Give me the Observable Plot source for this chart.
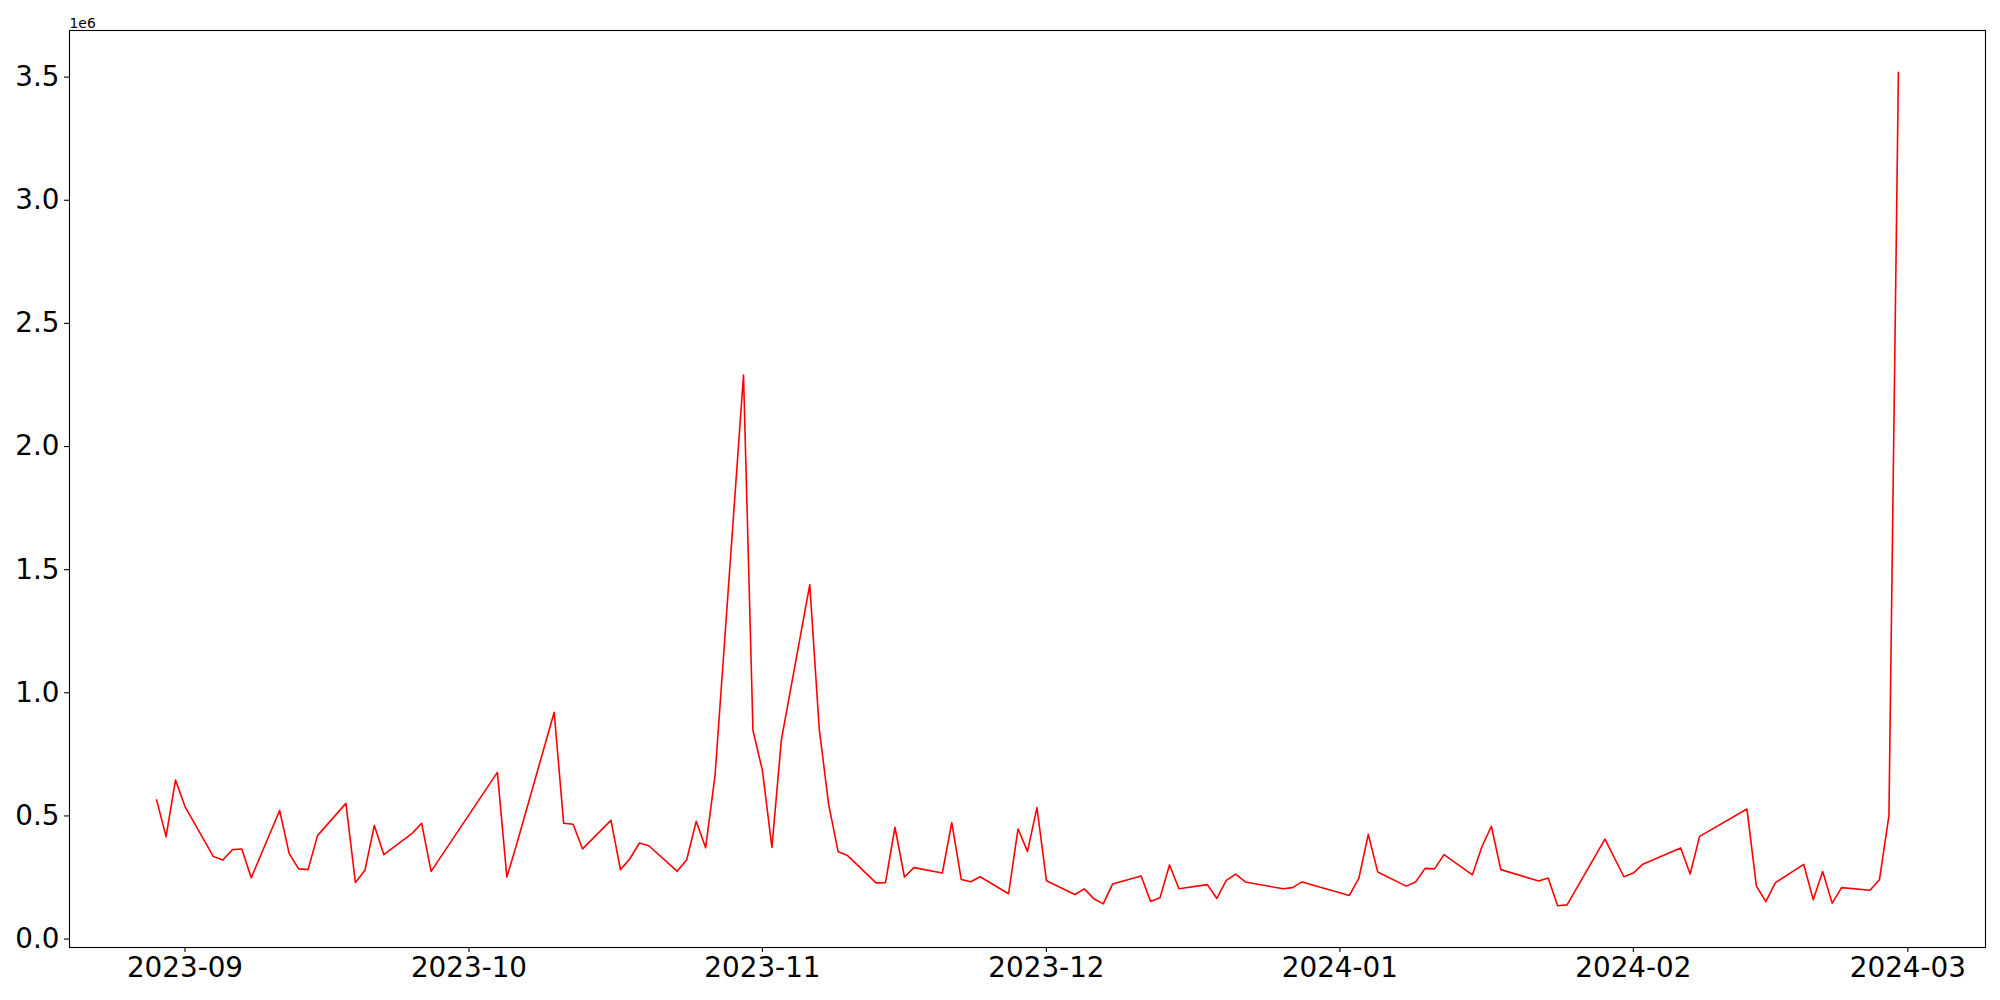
<!DOCTYPE html>
<html>
<head>
<meta charset="utf-8">
<script src="https://cdn.jsdelivr.net/npm/d3@7"></script>
<script src="https://cdn.jsdelivr.net/npm/@observablehq/plot@0.6"></script>
<style>
  html, body { margin: 0; padding: 0; background: white; }
  #chart svg { display: block; }
</style>
</head>
<body>
<div id="chart"></div>
<script>
const dates = [
  "2023-08-29","2023-08-30","2023-08-31","2023-09-01","2023-09-04","2023-09-05","2023-09-06","2023-09-07","2023-09-08",
  "2023-09-11","2023-09-12","2023-09-13","2023-09-14","2023-09-15","2023-09-18","2023-09-19","2023-09-20","2023-09-21",
  "2023-09-22","2023-09-25","2023-09-26","2023-09-27","2023-10-04","2023-10-05","2023-10-06","2023-10-10","2023-10-11",
  "2023-10-12","2023-10-13","2023-10-16","2023-10-17","2023-10-18","2023-10-19","2023-10-20","2023-10-23","2023-10-24",
  "2023-10-25","2023-10-26","2023-10-27","2023-10-30","2023-10-31","2023-11-01","2023-11-02","2023-11-03","2023-11-06",
  "2023-11-07","2023-11-08","2023-11-09","2023-11-10","2023-11-13","2023-11-14","2023-11-15","2023-11-16","2023-11-17",
  "2023-11-20","2023-11-21","2023-11-22","2023-11-23","2023-11-24","2023-11-27","2023-11-28","2023-11-29","2023-11-30",
  "2023-12-01","2023-12-04","2023-12-05","2023-12-06","2023-12-07","2023-12-08","2023-12-11","2023-12-12","2023-12-13",
  "2023-12-14","2023-12-15","2023-12-18","2023-12-19","2023-12-20","2023-12-21","2023-12-22","2023-12-26","2023-12-27",
  "2023-12-28","2024-01-02","2024-01-03","2024-01-04","2024-01-05","2024-01-08","2024-01-09","2024-01-10","2024-01-11",
  "2024-01-12","2024-01-15","2024-01-16","2024-01-17","2024-01-18","2024-01-22","2024-01-23","2024-01-24","2024-01-25",
  "2024-01-29","2024-01-31","2024-02-01","2024-02-02","2024-02-06","2024-02-07","2024-02-08","2024-02-13","2024-02-14",
  "2024-02-15","2024-02-16","2024-02-19","2024-02-20","2024-02-21","2024-02-22","2024-02-23","2024-02-26","2024-02-27",
  "2024-02-28","2024-02-29"
];

const values = [
  565000, 416000, 646000, 538000, 335000, 321000, 363000, 366000, 249000,
  522000, 348000, 285000, 282000, 420000, 551000, 230000, 278000, 461000,
  343000, 429000, 470000, 275000, 677000, 252000, 380000, 921000, 470000,
  466000, 366000, 482000, 282000, 326000, 390000, 379000, 275000, 322000,
  478000, 371000, 667000, 2290000, 847000, 684000, 372000, 809000, 1439000,
  854000, 545000, 355000, 339000, 228000, 229000, 454000, 252000, 290000,
  268000, 473000, 242000, 233000, 253000, 184000, 447000, 356000, 534000,
  237000, 181000, 204000, 164000, 143000, 224000, 256000, 153000, 168000,
  301000, 204000, 221000, 165000, 238000, 264000, 232000, 204000, 209000,
  232000, 177000, 246000, 425000, 272000, 215000, 232000, 287000, 285000,
  343000, 261000, 375000, 458000, 282000, 236000, 248000, 135000, 139000,
  406000, 253000, 268000, 304000, 370000, 264000, 417000, 528000, 215000,
  152000, 229000, 303000, 160000, 274000, 146000, 209000, 198000, 241000,
  501000, 3520000
];

const xTickLabels = ["2023-09","2023-10","2023-11","2023-12","2024-01","2024-02","2024-03"];
const yTicks = [0, 500000, 1000000, 1500000, 2000000, 2500000, 3000000, 3500000];
const offsetLabel = "1e6";

const data = dates.map((d, i) => ({date: new Date(d + "T00:00:00Z"), value: values[i]}));
const xTicks = xTickLabels.map(s => new Date(s + "-01T00:00:00Z"));

// matplotlib-like 5% margins
const tMin = d3.min(data, d => +d.date), tMax = d3.max(data, d => +d.date);
const vMin = d3.min(values), vMax = d3.max(values);
const tPad = (tMax - tMin) * 0.05, vPad = (vMax - vMin) * 0.05;

const font = "'DejaVu Sans', sans-serif";

const chart = Plot.plot({
  width: 2000,
  height: 1000,
  marginLeft: 69,
  marginRight: 15,
  marginTop: 30,
  marginBottom: 53,
  style: {fontFamily: font, background: "white", color: "black", overflow: "visible"},
  x: {type: "utc", domain: [new Date(tMin - tPad), new Date(tMax + tPad)]},
  y: {domain: [vMin - vPad, vMax + vPad]},
  marks: [
    Plot.line(data, {x: "date", y: "value", stroke: "red", strokeWidth: 1.6, curve: "linear"}),
    Plot.frame({stroke: "black", strokeWidth: 1.1}),
    Plot.axisX({
      ticks: xTicks,
      tickFormat: d3.utcFormat("%Y-%m"),
      tickSize: 5,
      tickPadding: 5,
      fontSize: 27.8,
      stroke: "black",
      strokeWidth: 1.1,
      label: null
    }),
    Plot.axisY({
      ticks: yTicks,
      tickFormat: v => (v / 1e6).toFixed(1),
      tickSize: 5,
      tickPadding: 5,
      fontSize: 27.8,
      stroke: "black",
      strokeWidth: 1.1,
      label: null
    }),
    Plot.text([offsetLabel], {
      frameAnchor: "top-left",
      text: d => d,
      textAnchor: "start",
      lineAnchor: "bottom",
      dy: -3,
      fontSize: 13.9,
      fill: "black"
    })
  ]
});

document.getElementById("chart").appendChild(chart);
</script>
</body>
</html>
